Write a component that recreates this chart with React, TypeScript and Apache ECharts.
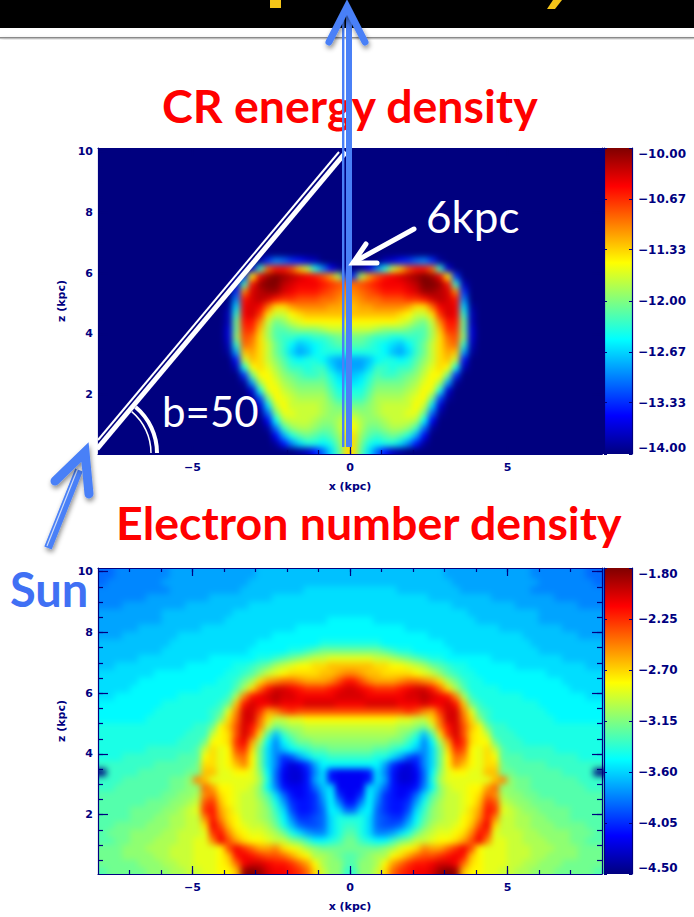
import React, { useEffect, useRef } from "react";
import * as echarts from "echarts";

const W = 694;
const H = 917;

// Half-plane (x >= 0) field levels, 0..z in base 36, rows from z = 9.875 down to z = 0.125, cells 0.25 kpc.
const crEnergyRows = [
  "0","0","0","0","0","0","0","0","0","0","0","0","0","0",
  "000023568961",
  "0149ekosuurf3",
  "6jpsuvwxyzyvm6",
  "rstuvvvwxzzyuf2",
  "qrstuuuvwyyxwq6",
  "pqrrsssttuwxwu90",
  "oppqqqqpnnrvwvc1",
  "oooooonmkkntwvf2",
  "mmmmmmlkihkquuh2",
  "kkkjiiihggjotth3",
  "hhgffeeffgjnrsi3",
  "ggfedcbdfhknqrf2",
  "eeeedbacfhknpoa1",
  "aabdeedegiknok50",
  "aacffeffhjlnme20",
  "bcegffghikmmh600",
  "cdfhhhhijlmja10",
  "eegiiiijkmle30",
  "ffhjjjjklmh710",
  "hhijkkkkmkc30",
  "jiijkkkllh810",
  "ljiijkkkjd40",
  "mjhhijjif810",
  "nigfghgea40",
  "nhedeec9510",
  "ngc85210",
];
const electronRows = [
  "bbbbbbbbbbbbaaaaaaaaaaa999999988",
  "bbbbbbbbbbbbbaaaaaaaaaaa99999998",
  "ccccccbbbbbbbbaaaaaaaaa999999999",
  "ccccccccccbbbbbbbbaaaaaaaa999999",
  "cccccccccccccbbbbbbbbaaaaaaaa999",
  "cccccccccccccccbbbbbbbbbaaaaaaaa",
  "dddcccccccccccccbbbbbbbbaaaaaaaa",
  "dddddddccccccccccccbbbbbbbbaaaaa",
  "ddddddddddccccccccccccbbbbbbbaaa",
  "eeeeddddddddcccccccccccbbbbbbbbb",
  "hhhhgfeedddddcccccccccccbbbbbbbb",
  "lllkkjihgfeeddddddcccccccccbbbbb",
  "ooonnmmlkjhgfeeddddddcccccccccbb",
  "qpoonnnnmlkigfeedddddddddccccccc",
  "usqpppqrrqpnjhfeeddddddddddccccc",
  "wvutttuvwwurnjgeeeedddddddddcccc",
  "wwvvvvvwwxwvuqjfeeeeeeddddddddcc",
  "vvwwwwvvvwvvwuohfeeeeeeedddddddd",
  "ssssssstsqptwwqlgfeeeeeeeddddddd",
  "mmmmmmllkknrwwrnifeeeeeeeedddddd",
  "kkkkkkjjihkquwsomhffeeeeeeeeeeee",
  "jjjjjjihfbgntwsnmkfffeeeeeeeeeee",
  "iiiiihhfd9djpvtnmmhfffeeeeeeeeee",
  "hhhggfedb9chntsmlnkgffffffeeeeee",
  "fffeeca769chmrqmlnmgggfffffffeee",
  "dddda64359chmqomlnnhgggggfffffff",
  "445c9533 48dilmmllooh".replace(" ", "") + "hggggggffff",
  "445ca53348ejlllllloqihhggggggfff",
  "44cb854459dikllmmpriihhgggggggff",
  "46da65458cgikklmnrqjiihhgggggggg",
  "59d9655 6aehjkklmotsk".replace(" ", "") + "jiihhhgggggg",
  "8cd86557cfijkklnputlkjiihhhhgggg",
  "eec87669dgijkkmnquqkkjjiihhhgggg",
  "fec8778behjkklmosvnkkjjiiihhhhgg",
  "gec99acehjkllmnqutlkkkjjiiiihhhg",
  "hfeddfhikklmmnpsvqllkkjjjiiihhgg",
  "hhhhijlmnqpprtvsmlllkkkjjjiiihhh",
  "ghijjmnprsstuvuomlllkkkjjiiiihhh",
  "giijmprtuuvwwvrnmlllkkjjiiihhhhh",
  "fiiknrtuvvwyzyommllkkjjiiihhhhhg",
];

const crRange = [-14, -10];
const electronRange = [-4.5, -1.8];
const crTicks = [-14, -13.33, -12.67, -12, -11.33, -10.67, -10];
const electronTicks = [-4.5, -4.05, -3.6, -3.15, -2.7, -2.25, -1.8];
const xMajor = [-5, 0, 5];
const xMinor = [-7, -6, -5, -4, -3, -2, -1, 0, 1, 2, 3, 4, 5, 6, 7];
const zMajor = [2, 4, 6, 8, 10];
const zMinor = [0.5, 1, 1.5, 2, 2.5, 3, 3.5, 4, 4.5, 5, 5.5, 6, 6.5, 7, 7.5, 8, 8.5, 9, 9.5, 10];

const jet = ["#00007f", "#0000ff", "#00ffff", "#ffff00", "#ff0000", "#7f0000"];
const jetStops = [0, 0.125, 0.375, 0.625, 0.875, 1];
const NAVY = "#00007f";
const BLUE = "#4a80f7";
const CELL = 0.25;
const X_MIN = -8;
const X_MAX = 8;
const Z_MIN = 0.05;
const Z_MAX = 10.12;

const panels = [
  { top: 148, rows: crEnergyRows, range: crRange, ticks: crTicks },
  { top: 568, rows: electronRows, range: electronRange, ticks: electronTicks },
];
const PLOT_LEFT = 98;
const PLOT_W = 504;
const PLOT_H = 306;
const BAR_LEFT = 604;
const BAR_W = 28;

const font = { color: NAVY, fontFamily: "DejaVu Sans", fontWeight: "bold" as const, fontSize: 11 };

function fmtMinus(v: number, d: number) {
  const s = Math.abs(v).toFixed(d);
  return v < 0 ? "\u2212" + s : s;
}

function decode(rows: string[], range: number[]) {
  const out: number[][] = [];
  rows.forEach((row, r) => {
    const z = 10 - (r + 0.5) * CELL;
    const full = row.padEnd(32, "0");
    for (let c = 0; c < 32; c++) {
      const v = range[0] + (parseInt(full[c], 36) / 35) * (range[1] - range[0]);
      const x = (c + 0.5) * CELL;
      out.push([x, z, v]);
      out.push([-x, z, v]);
    }
  });
  return out;
}

function gridsFor() {
  return panels.map((p) => ({
    left: PLOT_LEFT, top: p.top, width: PLOT_W, height: PLOT_H, containLabel: false,
  }));
}

function tickAxis(grid: number, position: string, values: number[], len: number, extra: any = {}) {
  const isX = position === "top" || position === "bottom";
  return {
    type: "value", gridIndex: grid, position,
    min: isX ? X_MIN : Z_MIN, max: isX ? X_MAX : Z_MAX,
    splitLine: { show: false },
    axisLine: { show: false, onZero: false },
    axisLabel: { show: false },
    axisTick: { show: true, inside: true, length: len, customValues: values, lineStyle: { color: NAVY, width: 1.2 } },
    ...extra,
  };
}

function buildMainOption(): any {
  const grids: any[] = gridsFor().map((g) => ({ ...g, show: false }));
  const xAxis: any[] = [];
  const yAxis: any[] = [];
  const line = { show: true, onZero: false, lineStyle: { color: NAVY, width: 1.2 } };
  panels.forEach((p, i) => {
    xAxis.push(tickAxis(i, "bottom", xMajor, 8, {
      axisLine: line,
      name: "x (kpc)", nameLocation: "middle", nameGap: 27, nameTextStyle: font,
      axisLabel: { show: true, ...font, margin: 8, customValues: xMajor, formatter: (v: number) => fmtMinus(v, 0) },
    }));
    xAxis.push(tickAxis(i, "bottom", xMinor, 4));
    xAxis.push(tickAxis(i, "top", xMajor, 8, { axisLine: line }));
    xAxis.push(tickAxis(i, "top", xMinor, 4));
    yAxis.push(tickAxis(i, "left", zMajor, 10, {
      axisLine: line,
      name: "z (kpc)", nameLocation: "middle", nameGap: 30, nameTextStyle: font,
      axisLabel: { show: true, ...font, margin: 5, customValues: zMajor, formatter: (v: number) => fmtMinus(v, 0) },
    }));
    yAxis.push(tickAxis(i, "left", zMinor, 5));
    yAxis.push(tickAxis(i, "right", zMajor, 10, { axisLine: line }));
    yAxis.push(tickAxis(i, "right", zMinor, 5));
  });
  panels.forEach((p, i) => {
    const g = grids.length;
    grids.push({
      left: BAR_LEFT, top: p.top, width: BAR_W, height: PLOT_H, show: true, borderWidth: 0,
      backgroundColor: new echarts.graphic.LinearGradient(0, 1, 0, 0,
        jet.map((color, k) => ({ offset: jetStops[k], color }))),
    });
    xAxis.push({ type: "value", gridIndex: g, show: false, min: 0, max: 1 });
    const base = {
      type: "value", gridIndex: g, min: p.range[0], max: p.range[1],
      splitLine: { show: false }, axisLine: line,
    };
    yAxis.push({
      ...base, position: "right",
      axisTick: { show: true, inside: true, length: 3, customValues: p.ticks, lineStyle: { color: NAVY } },
      axisLabel: {
        show: true, ...font, fontSize: 12, margin: 6, customValues: p.ticks,
        verticalAlignMinLabel: "bottom", verticalAlignMaxLabel: "top",
        formatter: (v: number) => fmtMinus(v, 2),
      },
    });
    yAxis.push({
      ...base, position: "left", axisLabel: { show: false },
      axisTick: { show: true, inside: true, length: 3, customValues: p.ticks, lineStyle: { color: NAVY } },
    });
  });

  const shadow = { shadowBlur: 5, shadowColor: "rgba(0,0,0,0.45)", shadowOffsetX: 1, shadowOffsetY: 3 };
  const rad = Math.PI / 180;
  const graphic: any[] = [
    { type: "rect", z: 50, shape: { x: 0, y: 0, width: W, height: 28 }, style: { fill: "#000" } },
    { type: "rect", z: 49, shape: { x: 0, y: 37, width: W, height: 1.5 }, style: { fill: "#8a8a8a", ...shadow } },
    { type: "polygon", z: 51, shape: { points: [[270, 0], [281, 0], [281, 8], [270, 8]] }, style: { fill: "#f5c518" } },
    { type: "polygon", z: 51, shape: { points: [[553, 0], [562, 0], [555, 9], [547, 9]] }, style: { fill: "#f5c518" } },
    { type: "text", z: 52, x: 162, y: 105, style: { text: "CR energy density", font: "bold 46.5px Lato", fill: "#ff0000", textVerticalAlign: "middle" } },
    { type: "text", z: 52, x: 116, y: 522, style: { text: "Electron number density", font: "bold 46.5px Lato", fill: "#ff0000", textVerticalAlign: "middle" } },
    { type: "text", z: 52, x: 10, y: 589, style: { text: "Sun", font: "bold 47px Lato", fill: "#4070f4", textVerticalAlign: "middle" } },
    { type: "text", z: 52, x: 426, y: 216, style: { text: "6kpc", font: "44px Lato", fill: "#ffffff", textVerticalAlign: "middle" } },
    { type: "text", z: 52, x: 162, y: 411, style: { text: "b=50", font: "42px Lato", fill: "#ffffff", textVerticalAlign: "middle" } },
    // line of sight to b = 50
    { type: "line", z: 60, shape: { x1: 97, y1: 449, x2: 346, y2: 152 }, style: { stroke: "#fff", lineWidth: 5 } },
    { type: "line", z: 60, shape: { x1: 98, y1: 440, x2: 339, y2: 152 }, style: { stroke: "#fff", lineWidth: 2 } },
    { type: "arc", z: 60, shape: { cx: 97, cy: 453, r: 60, startAngle: -50 * rad, endAngle: 0, clockwise: true }, style: { stroke: "#fff", lineWidth: 4, fill: null } },
    { type: "arc", z: 60, shape: { cx: 97, cy: 453, r: 54, startAngle: -50 * rad, endAngle: 0, clockwise: true }, style: { stroke: "#fff", lineWidth: 1.5, fill: null } },
    // vertical arrow
    { type: "rect", z: 61, shape: { x: 342, y: 12, width: 2.4, height: 435 }, style: { fill: BLUE } },
    { type: "rect", z: 61, shape: { x: 346, y: 12, width: 6, height: 435 }, style: { fill: BLUE } },
    { type: "polyline", z: 62, shape: { points: [[329, 42], [347, 7], [365, 42]] }, style: { stroke: BLUE, lineWidth: 7, lineCap: "round", lineJoin: "miter", fill: null, ...shadow } },
    // 6kpc arrow
    { type: "polyline", z: 62, shape: { points: [[414, 229], [354, 262]] }, style: { stroke: "#fff", lineWidth: 5, lineCap: "round", fill: null } },
    { type: "polyline", z: 62, shape: { points: [[366, 244], [353, 263], [377, 263]] }, style: { stroke: "#fff", lineWidth: 5, lineCap: "round", fill: null } },
    // Sun arrow
    { type: "line", z: 61, shape: { x1: 48, y1: 548, x2: 79, y2: 470 }, style: { stroke: BLUE, lineWidth: 8, ...shadow } },
    { type: "line", z: 62, shape: { x1: 47, y1: 546, x2: 78, y2: 468 }, style: { stroke: "#cfdcf8", lineWidth: 1.2 } },
    { type: "polyline", z: 62, shape: { points: [[55, 481], [85, 452], [89, 494]] }, style: { stroke: BLUE, lineWidth: 9, lineCap: "round", fill: null, ...shadow } },
  ];

  return { animation: false, backgroundColor: "transparent", grid: grids, xAxis, yAxis, series: [], graphic };
}

function jetAt(t: number) {
  let k = 0;
  while (k < jetStops.length - 2 && t > jetStops[k + 1]) k++;
  const f = (t - jetStops[k]) / (jetStops[k + 1] - jetStops[k]);
  const mix = (s: number) => {
    const a = parseInt(jet[k].slice(s, s + 2), 16);
    const b = parseInt(jet[k + 1].slice(s, s + 2), 16);
    return Math.round(a + (b - a) * f);
  };
  return `rgb(${mix(1)},${mix(3)},${mix(5)})`;
}

function heatOption(): any {
  const grids = gridsFor().map((g) => ({ ...g, show: false }));
  const xAxis = panels.map((p, i) => ({ type: "value", gridIndex: i, min: X_MIN, max: X_MAX, show: false }));
  const yAxis = panels.map((p, i) => ({ type: "value", gridIndex: i, min: Z_MIN, max: Z_MAX, show: false }));
  const series = panels.map((p, i) => ({
    type: "custom", xAxisIndex: i, yAxisIndex: i, clip: false, silent: true,
    data: decode(p.rows, p.range),
    encode: { x: 0, y: 1 },
    renderItem: (params: any, api: any) => {
      const x = api.value(0);
      const z = api.value(1);
      const a = api.coord([x - CELL / 2, z + CELL / 2]);
      const b = api.coord([x + CELL / 2, z - CELL / 2]);
      const padL = x < X_MIN + CELL ? 14 : 0.6;
      const padR = x > X_MAX - CELL ? 14 : 0.6;
      const padT = z > 10 - CELL ? 14 : 0.6;
      const padB = z < CELL ? 14 : 0.6;
      return {
        type: "rect",
        shape: { x: a[0] - padL, y: a[1] - padT, width: b[0] - a[0] + padL + padR, height: b[1] - a[1] + padT + padB },
        style: { fill: api.visual("color") },
      };
    },
  }));
  const visualMap = panels.map((p, i) => ({
    type: "continuous", show: false, seriesIndex: i, dimension: 2, min: p.range[0], max: p.range[1],
    inRange: { color: Array.from({ length: 9 }, (_, k) => jetAt(k / 8)) },
  }));
  return { animation: false, grid: grids, xAxis, yAxis, series, visualMap };
}

const clip = panels
  .map((p) => `M${PLOT_LEFT} ${p.top}H${BAR_LEFT}V${p.top + PLOT_H}H${PLOT_LEFT}Z`)
  .join(" ");

export default function App() {
  const heatRef = useRef<HTMLDivElement>(null);
  const mainRef = useRef<HTMLDivElement>(null);
  useEffect(() => {
    document.body.style.margin = "0";
    document.body.style.background = "#fff";
    const heat = echarts.init(heatRef.current!, null, { renderer: "svg", width: W, height: H });
    const main = echarts.init(mainRef.current!, null, { renderer: "svg", width: W, height: H });
    heat.setOption(heatOption());
    main.setOption(buildMainOption());
    return () => {
      heat.dispose();
      main.dispose();
    };
  }, []);
  const full: React.CSSProperties = { position: "absolute", left: 0, top: 0, width: W, height: H };
  return (
    <div style={{ position: "relative", width: W, height: H, overflow: "hidden" }}>
      <div style={{ ...full, clipPath: `path("${clip}")` }}>
        <div ref={heatRef} style={{ ...full, filter: "blur(3px)" }} />
      </div>
      <div ref={mainRef} style={full} />
    </div>
  );
}
